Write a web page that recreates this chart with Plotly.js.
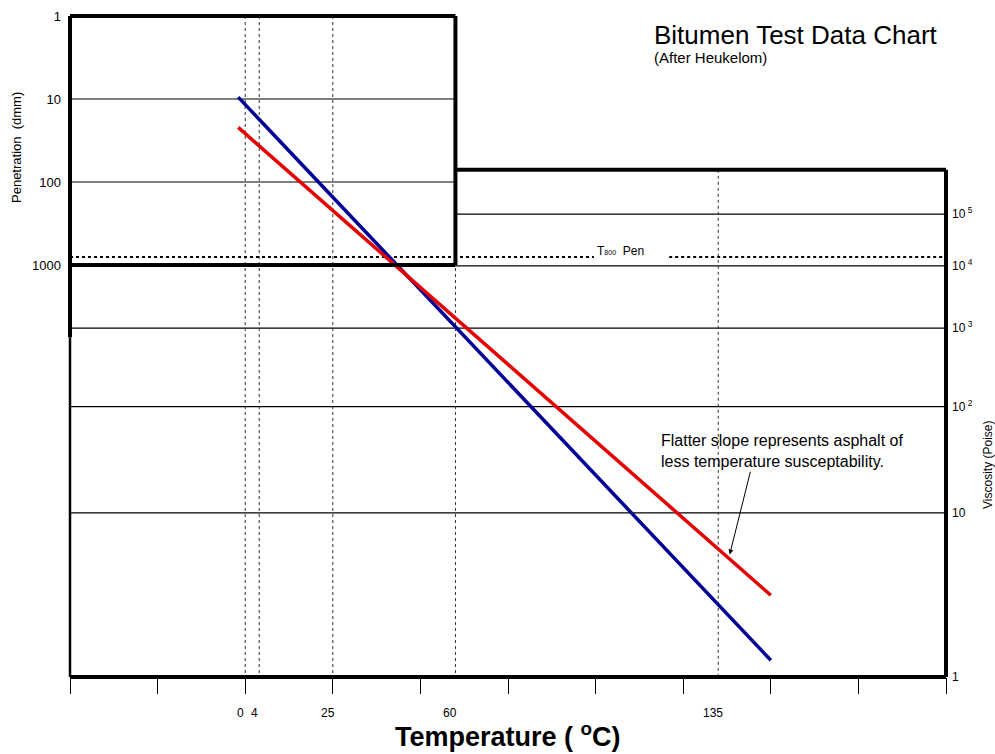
<!DOCTYPE html>
<html><head><meta charset="utf-8">
<script src="https://cdn.plot.ly/plotly-3.0.1.min.js"></script>
<style>html,body{margin:0;padding:0;background:#fff}#chart{width:995px;height:754px}</style>
</head><body><div id="chart"></div>
<script>
// ---- data ----
const temperatureLabels = [0, 4, 25, 60, 135];
const referenceTemps = [0, 4, 25, 60, 135];
const penetrationTicks = [1, 10, 100, 1000];
const penetrationGrid = [10, 100];
const viscosityTicks = [1, 10, 100, 1000, 10000, 100000];
const viscosityTickText = ['1', '10', '10<sup> 2</sup>', '10<sup> 3</sup>', '10<sup> 4</sup>', '10<sup> 5</sup>'];
const viscosityGridFull = [10, 100, 1000];
const viscosityGridRight = [10000, 100000];
const seriesNames = ['Steeper asphalt', 'Flatter asphalt'];
const lineStartTemp = [-2, -2];
const lineEndTemp = [150, 150];
const startPenetration = [9.5, 22];
const endViscosity = [1.2, 2.7];
const t800Penetration = 800;

// ---- chart scale (Heukelom layout) ----
const X_MIN = -50, X_MAX = 200;
const LMAX = 7.964;               // log10 span of penetration axis (1 at top)
const upperBoxMaxTemp = 60;       // penetration panel ends at 60 °C
const upperBoxMaxPen = 1000;
const lowerBoxMaxVisc = 1e6;
function viscToLog(v) { const u = Math.log10(v); return 9.199 - 8.451 * Math.log10(u + 1.4); }
function viscToAxis(v) { return Math.pow(10, viscToLog(v)); }
const xp = T => (T - X_MIN) / (X_MAX - X_MIN);
const yp = L => 1 - L / LMAX;

const colors = ['#000099', '#e60000'];
const traces = seriesNames.map((n, i) => ({
  type: 'scatter', mode: 'lines', name: n,
  x: [lineStartTemp[i], lineEndTemp[i]],
  y: [startPenetration[i], viscToAxis(endViscosity[i])],
  line: {color: colors[i], width: 3.5},
  hoverinfo: 'skip', showlegend: false
}));
traces.push({type: 'scatter', mode: 'lines', x: [null], y: [null], yaxis: 'y2', showlegend: false, hoverinfo: 'skip'});

const shapes = [];
const gridLine = (T0, T1, val, color) => shapes.push({type: 'line', layer: 'below', xref: 'x', yref: 'y', x0: T0, x1: T1, y0: val, y1: val, line: {color: color, width: 1.2}});
penetrationGrid.forEach(p => gridLine(X_MIN, upperBoxMaxTemp, p, '#000'));
viscosityGridFull.forEach(v => gridLine(X_MIN, X_MAX, viscToAxis(v), '#000'));
viscosityGridRight.forEach(v => gridLine(upperBoxMaxTemp, X_MAX, viscToAxis(v), '#000'));
// vertical reference lines
referenceTemps.forEach(T => {
  const top = T === 135 ? viscToAxis(lowerBoxMaxVisc) : 1;
  shapes.push({type: 'line', layer: 'below', xref: 'x', yref: 'y', x0: T, x1: T, y0: top, y1: viscToAxis(1), line: {color: '#333', width: 1, dash: 'dot'}});
});
// T800 Pen dotted line (broken around its label)
const t800Label = 107;
shapes.push({type: 'line', layer: 'below', xref: 'x', yref: 'y', x0: X_MIN, x1: t800Label - 7.5, y0: t800Penetration, y1: t800Penetration, line: {color: '#000', width: 2, dash: 'dot'}});
shapes.push({type: 'line', layer: 'below', xref: 'x', yref: 'y', x0: t800Label + 14, x1: X_MAX, y0: t800Penetration, y1: t800Penetration, line: {color: '#000', width: 2, dash: 'dot'}});
// frame
const border = (x0, y0, x1, y1, w) => shapes.push({type: 'line', layer: 'above', xref: 'paper', yref: 'paper', x0, y0, x1, y1, line: {color: '#000', width: w}});
const upR = xp(upperBoxMaxTemp), upB = yp(Math.log10(upperBoxMaxPen)), loT = yp(viscToLog(lowerBoxMaxVisc));
border(0, 1, upR, 1, 4);
border(upR, 1, upR, upB, 4);
border(0, upB, upR, upB, 4);
border(0, 1, 0, yp(3.87), 4);
border(0, yp(3.87), 0, 0, 2.5);
border(upR, loT, 1, loT, 4);
border(1, loT, 1, 0, 4);
border(0, 0, 1, 0, 4);

const F = 'Liberation Sans, Arial, Helvetica, sans-serif';
const annotations = [];
temperatureLabels.forEach(T => annotations.push({xref: 'x', yref: 'paper', x: T, y: 0, yanchor: 'top', xanchor: 'center', xshift: -5, yshift: -27, text: String(T), showarrow: false, font: {family: F, size: 12, color: '#000'}}));
annotations.push({xref: 'paper', yref: 'paper', x: 0.5, y: 0, yanchor: 'top', yshift: -39, text: '<b>Temperature ( <sup>o</sup>C)</b>', showarrow: false, font: {family: F, size: 27, color: '#000'}});
annotations.push({xref: 'paper', yref: 'paper', x: (652 - 70) / 876, y: 1 - (35 - 16) / 661, xanchor: 'left', yanchor: 'middle', text: 'Bitumen Test Data Chart', showarrow: false, font: {family: F, size: 26, color: '#000'}});
annotations.push({xref: 'paper', yref: 'paper', x: (652 - 70) / 876, y: 1 - (57 - 16) / 661, xanchor: 'left', yanchor: 'middle', text: '(After Heukelom)', showarrow: false, font: {family: F, size: 15, color: '#000'}});
annotations.push({xref: 'paper', yref: 'paper', x: (17 - 70) / 876, y: 1 - (148 - 16) / 661, textangle: -90, xanchor: 'center', yanchor: 'middle', text: 'Penetration  (dmm)', showarrow: false, font: {family: F, size: 13, color: '#000'}});
annotations.push({xref: 'paper', yref: 'paper', x: (988 - 70) / 876, y: 1 - (465 - 16) / 661, textangle: -90, xanchor: 'center', yanchor: 'middle', text: 'Viscosity (Poise)', showarrow: false, font: {family: F, size: 12, color: '#000'}});
annotations.push({xref: 'x', yref: 'y', x: t800Label, y: Math.log10(t800Penetration), xanchor: 'center', yanchor: 'bottom', yshift: -3, text: "T<span style='font-size:7px'>800</span>  Pen", showarrow: false, font: {family: F, size: 12, color: '#000'}});
annotations.push({xref: 'x', yref: 'y', x: 118, y: 5.241, xanchor: 'left', yanchor: 'middle', align: 'left', text: 'Flatter slope represents asphalt of<br>less temperature susceptability.', showarrow: false, font: {family: F, size: 16, color: '#000'}});
// arrow to the flatter (red) line
const Ls = Math.log10(startPenetration[1]), Le = viscToLog(endViscosity[1]);
const arrowT = 138;
const arrowL = Ls + (arrowT - lineStartTemp[1]) / (lineEndTemp[1] - lineStartTemp[1]) * (Le - Ls);
annotations.push({xref: 'x', yref: 'y', x: arrowT, y: arrowL, ax: 22, ay: -88, text: '', showarrow: true, arrowhead: 2, arrowsize: 1, arrowwidth: 1, arrowcolor: '#000', standoff: 4});

const layout = {
  width: 995, height: 754,
  margin: {l: 70, r: 49, t: 16, b: 77, pad: 0},
  paper_bgcolor: '#fff', plot_bgcolor: '#fff',
  showlegend: false,
  font: {family: F, color: '#000'},
  xaxis: {range: [X_MIN, X_MAX], tick0: X_MIN, dtick: 25, ticks: 'outside', ticklen: 16, tickwidth: 1, tickcolor: '#000', showticklabels: false, showgrid: false, zeroline: false, showline: false, fixedrange: true},
  yaxis: {type: 'log', range: [LMAX, 0], tickmode: 'array', tickvals: penetrationTicks, ticktext: penetrationTicks.map(String), ticks: '', ticklabelstandoff: 8, tickfont: {size: 13, family: F}, showgrid: false, zeroline: false, showline: false, fixedrange: true},
  yaxis2: {type: 'log', overlaying: 'y', side: 'right', range: [LMAX, 0], tickmode: 'array', tickvals: viscosityTicks.map(viscToAxis), ticktext: viscosityTickText, ticks: '', ticklabelstandoff: 5, tickfont: {size: 12, family: F}, showgrid: false, zeroline: false, showline: false, fixedrange: true},
  shapes: shapes,
  annotations: annotations
};
Plotly.newPlot('chart', traces, layout, {displayModeBar: false, staticPlot: true});
</script></body></html>
